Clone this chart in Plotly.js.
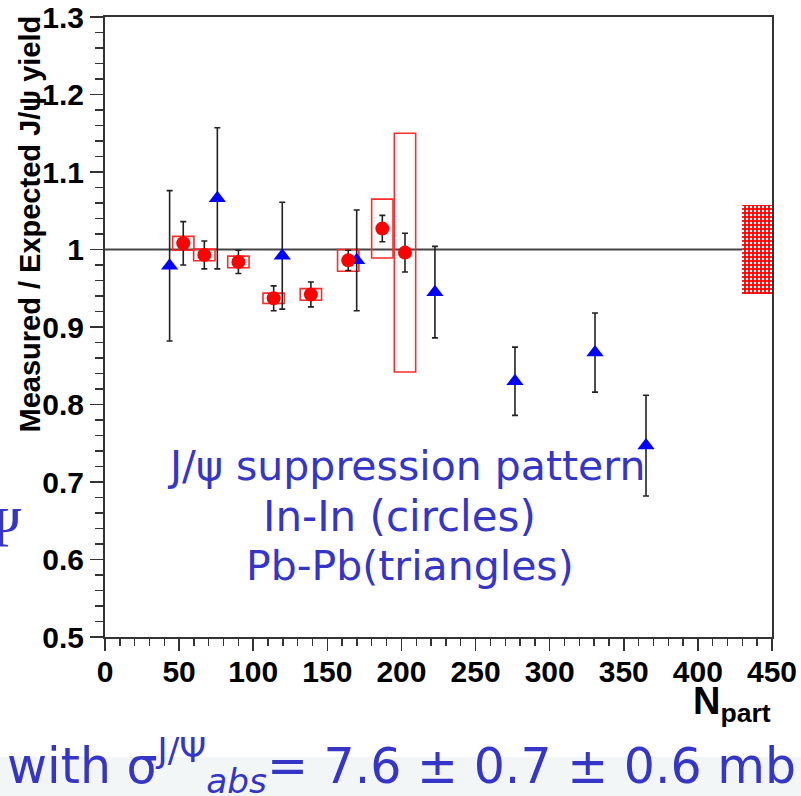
<!DOCTYPE html>
<html>
<head>
<meta charset="utf-8">
<script src="https://cdn.plot.ly/plotly-3.0.1.min.js"></script>
<style>
  html, body { margin: 0; padding: 0; background: #ffffff; }
  #chart { width: 801px; height: 796px; }
</style>
</head>
<body>
<div id="chart"></div>
<script>
// ---------- data ----------
// In-In (circles)
const inNpart = [52.8, 67.0, 90.0, 113.8, 138.9, 164.1, 187.1, 202.4];
const inRatio = [1.008, 0.993, 0.984, 0.937, 0.942, 0.986, 1.027, 0.996];
const inStat  = [0.028, 0.018, 0.015, 0.016, 0.016, 0.013, 0.017, 0.025];
const inSyst  = [0.009, 0.0075, 0.0075, 0.0067, 0.0075, 0.014, 0.038, 0.154];

// Pb-Pb (triangles)
const pbNpart = [43.6, 75.8, 119.6, 169.8, 222.6, 276.6, 330.6, 365.0];
const pbRatio = [0.979, 1.066, 0.992, 0.986, 0.945, 0.830, 0.867, 0.747];
const pbStat  = [0.097, 0.091, 0.069, 0.065, 0.059, 0.044, 0.051, 0.065];

// global normalisation uncertainty (band on the right)
const normCenter = [1.0];
const normErr    = [0.058];
const normNpart  = [440];

const xTickVals = [0, 50, 100, 150, 200, 250, 300, 350, 400, 450];
const yTickVals = [0.5, 0.6, 0.7, 0.8, 0.9, 1.0, 1.1, 1.2, 1.3];

// ---------- geometry helpers (plot area in pixels) ----------
const W = 801, H = 796;
const L = 105, R = 772, T = 17, B = 637;
const px = v => (v - L) / (R - L);     // page x pixel -> paper x
const py = v => (B - v) / (B - T);     // page y pixel -> paper y

const BOXHALF = 7.2;
const blue = '#3535c8';
const tickFont = {family: 'Liberation Sans Narrow, Arial Narrow, Liberation Sans, sans-serif', size: 30, color: '#000', weight: 'bold'};

// ---------- traces ----------
const traces = [
  {
    type: 'bar',
    x: normNpart,
    y: normErr.map(e => 2 * e),
    base: normCenter.map((c, i) => c - normErr[i]),
    width: [20],
    marker: {
      color: '#ff0000',
      line: {width: 0},
      pattern: {shape: '.', bgcolor: '#ff0000', fgcolor: '#ffffff', size: 4, solidity: 0.3}
    },
    hoverinfo: 'skip'
  },
  {
    type: 'scatter', mode: 'markers',
    x: pbNpart, y: pbRatio,
    error_y: {type: 'data', array: pbStat, visible: true, color: '#222', thickness: 1.6, width: 3},
    marker: {symbol: 'triangle-up', size: 15, color: '#0000ff'},
    hoverinfo: 'x+y'
  },
  {
    type: 'scatter', mode: 'markers',
    x: inNpart, y: inRatio,
    error_y: {type: 'data', array: inStat, visible: true, color: '#222', thickness: 1.6, width: 3},
    marker: {symbol: 'circle', size: 14, color: '#ff0000'},
    hoverinfo: 'x+y'
  }
];

// ---------- shapes ----------
const shapes = [
  {type: 'rect', xref: 'paper', yref: 'paper', x0: px(0), x1: px(W), y0: py(757), y1: py(H),
   fillcolor: '#f3f6f6', line: {width: 0}, layer: 'below'},
  {type: 'line', xref: 'x', yref: 'y', x0: 0, x1: 450, y0: 1, y1: 1,
   line: {color: '#444', width: 2}, layer: 'below'}
];
inNpart.forEach((n, i) => {
  shapes.push({
    type: 'rect', xref: 'x', yref: 'y',
    x0: n - BOXHALF, x1: n + BOXHALF,
    y0: inRatio[i] - inSyst[i], y1: inRatio[i] + inSyst[i],
    line: {color: '#ff2a2a', width: 1.6}, fillcolor: 'rgba(0,0,0,0)', layer: 'below'
  });
});

// ---------- annotations ----------
const annotations = [
  {xref: 'paper', yref: 'paper', x: px(30), y: py(14), xanchor: 'center', yanchor: 'top',
   text: 'Measured / Expected J/\u03c8 yield', textangle: -90, showarrow: false,
   font: {family: 'Liberation Sans, Arial, sans-serif', size: 29, color: '#000', weight: 'bold'}},
  {xref: 'paper', yref: 'paper', x: px(773), y: py(704), xanchor: 'right', yanchor: 'middle',
   text: 'N<sub>part</sub>', showarrow: false,
   font: {family: 'Liberation Sans, Arial, sans-serif', size: 38, color: '#000', weight: 'bold'}},
  {xref: 'paper', yref: 'paper', x: px(406), y: py(466), xanchor: 'center', yanchor: 'middle',
   text: 'J/\u03c8 suppression pattern', showarrow: false,
   font: {family: 'DejaVu Sans, sans-serif', size: 41, color: blue}},
  {xref: 'paper', yref: 'paper', x: px(399), y: py(516), xanchor: 'center', yanchor: 'middle',
   text: 'In-In (circles)', showarrow: false,
   font: {family: 'DejaVu Sans, sans-serif', size: 42, color: blue}},
  {xref: 'paper', yref: 'paper', x: px(410), y: py(566), xanchor: 'center', yanchor: 'middle',
   text: 'Pb-Pb(triangles)', showarrow: false,
   font: {family: 'DejaVu Sans, sans-serif', size: 41, color: blue}},
  {xref: 'paper', yref: 'paper', x: px(24), y: py(528), xanchor: 'right', yanchor: 'middle',
   text: '\u03a8', showarrow: false,
   font: {family: 'Liberation Serif, serif', size: 56, color: blue}},
  {xref: 'paper', yref: 'paper', x: px(5), y: py(765), xanchor: 'left', yanchor: 'middle',
   text: 'with \u03c3<sup>J/\u03a8</sup><sub><i>abs</i></sub>= 7.6 \u00b1 0.7 \u00b1 0.6 mb', showarrow: false,
   font: {family: 'DejaVu Sans, Verdana, sans-serif', size: 49, color: blue}}
];

// ---------- layout ----------
const layout = {
  width: W, height: H,
  margin: {l: L, r: W - R, t: T, b: H - B, pad: 0},
  paper_bgcolor: '#ffffff', plot_bgcolor: '#ffffff',
  showlegend: false,
  bargap: 0,
  xaxis: {
    range: [0, 450], tickvals: xTickVals, ticktext: xTickVals.map(String),
    showgrid: false, zeroline: false,
    showline: true, linecolor: '#333', linewidth: 2, mirror: true,
    ticks: 'outside', ticklen: 12, tickwidth: 1.6, tickcolor: '#333',
    ticklabelstandoff: -5,
    tickfont: tickFont,
    minor: {dtick: 10, tick0: 0, ticks: 'outside', ticklen: 7, tickwidth: 1.4, tickcolor: '#333', showgrid: false}
  },
  yaxis: {
    range: [0.5, 1.3], tickvals: yTickVals, ticktext: yTickVals.map(v => String(+v.toFixed(1))),
    showgrid: false, zeroline: false,
    showline: true, linecolor: '#333', linewidth: 2, mirror: true,
    ticks: 'outside', ticklen: 13, tickwidth: 1.6, tickcolor: '#333',
    tickfont: tickFont,
    minor: {dtick: 0.02, tick0: 0.5, ticks: 'outside', ticklen: 8, tickwidth: 1.4, tickcolor: '#333', showgrid: false}
  },
  shapes: shapes,
  annotations: annotations
};

Plotly.newPlot('chart', traces, layout, {displayModeBar: false, staticPlot: true});
</script>
</body>
</html>
